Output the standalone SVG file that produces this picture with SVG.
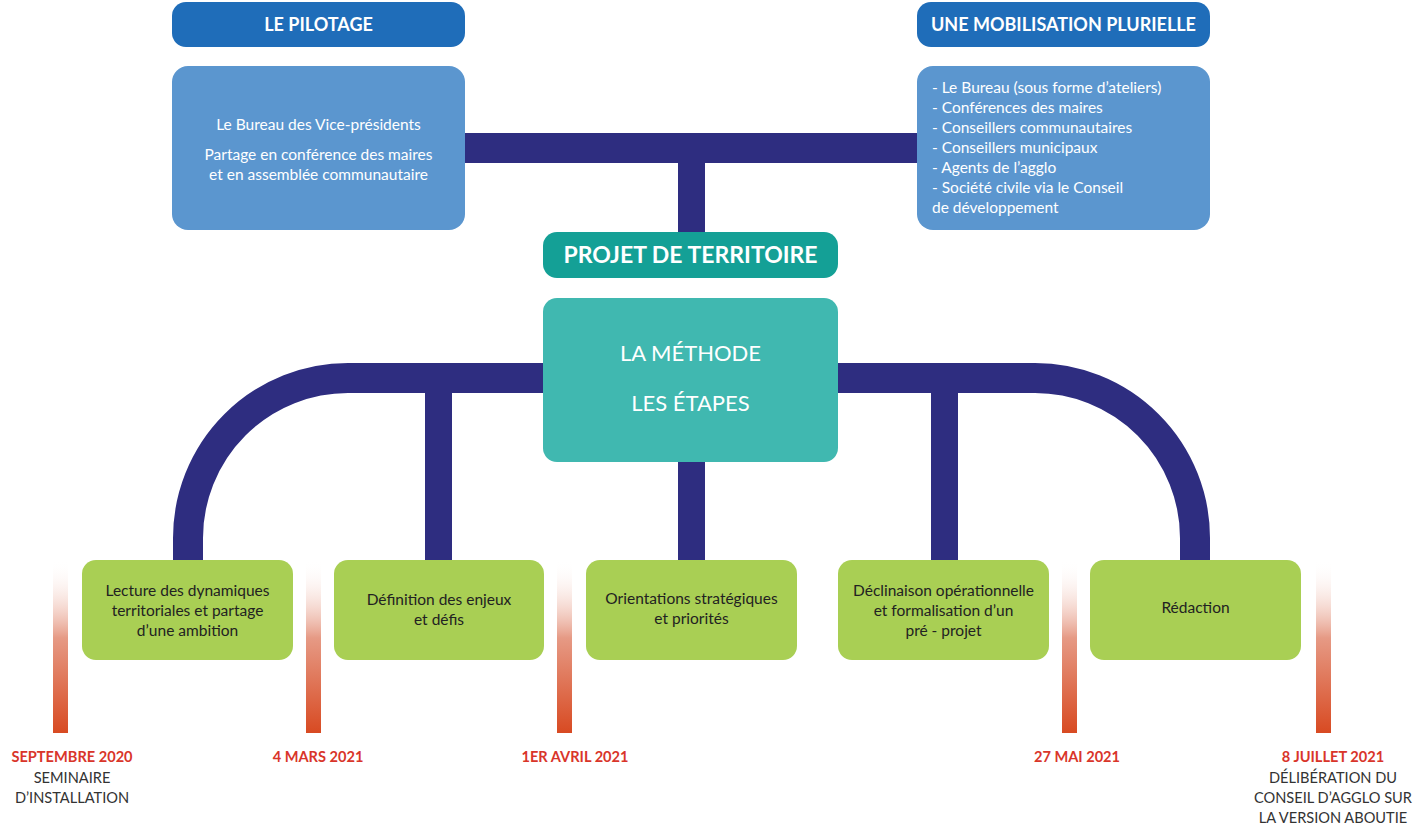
<svg xmlns="http://www.w3.org/2000/svg" width="1428" height="829" viewBox="0 0 1428 829">
<defs>
<linearGradient id="tl" x1="0" y1="0" x2="0" y2="1">
<stop offset="0" stop-color="#ffffff" stop-opacity="0"/>
<stop offset="0.45" stop-color="#e69a85"/>
<stop offset="1" stop-color="#d84a22"/>
</linearGradient>
<style>
text{font-family:Lato,"Open Sans","Liberation Sans",sans-serif;}
.hdr{fill:#1f6db9;}
.body{fill:#5b96cf;}
.teal1{fill:#14a096;}
.teal2{fill:#40b8b0;}
.green{fill:#a9cf54;}
.w{fill:#ffffff;}
.wt{fill:#ffffff;font-size:15.5px;}
.ht{fill:#ffffff;font-size:18px;font-weight:bold;text-anchor:middle;}
.gt{fill:#222222;font-size:15.5px;text-anchor:middle;}
.date{fill:#d9352a;font-size:14.6px;font-weight:bold;text-anchor:middle;}
.sub{fill:#333333;font-size:14.6px;text-anchor:middle;}
.conn{fill:none;stroke:#2e2d80;}
.bar{fill:url(#tl);}
</style>
</defs>
<rect width="1428" height="829" fill="#ffffff"/>
<g id="connectors">
<path class="conn" stroke-width="30" d="M465 148 H917"/>
<path class="conn" stroke-width="27" d="M691.5 148 V234"/>
<path class="conn" stroke-width="30" d="M188 562 V538 A160 160 0 0 1 348 378 H1035 A160 160 0 0 1 1195 538 V562"/>
<path class="conn" stroke-width="27" d="M438.5 378 V562"/>
<path class="conn" stroke-width="27" d="M944.5 378 V562"/>
<path class="conn" stroke-width="27" d="M691.5 460 V562"/>
</g>
<g id="pilotage-header">
<rect class="hdr" x="172" y="2" width="293" height="45" rx="14"/>
<text class="ht" x="318.5" y="31">LE PILOTAGE</text>
</g>
<g id="pilotage-body">
<rect class="body" x="172" y="66" width="293" height="164" rx="16"/>
<text class="wt" x="318.5" y="130" text-anchor="middle">Le Bureau des Vice-présidents</text>
<text class="wt" x="318.5" y="160" text-anchor="middle">Partage en conférence des maires</text>
<text class="wt" x="318.5" y="180" text-anchor="middle">et en assemblée communautaire</text>
</g>
<g id="mobilisation-header">
<rect class="hdr" x="917" y="2" width="293" height="45" rx="14"/>
<text class="ht" x="1063.5" y="31">UNE MOBILISATION PLURIELLE</text>
</g>
<g id="mobilisation-body">
<rect class="body" x="917" y="66" width="293" height="164" rx="16"/>
<text class="wt" x="932" y="93">- Le Bureau (sous forme d’ateliers)</text>
<text class="wt" x="932" y="113">- Conférences des maires</text>
<text class="wt" x="932" y="133">- Conseillers communautaires</text>
<text class="wt" x="932" y="153">- Conseillers municipaux</text>
<text class="wt" x="932" y="173">- Agents de l’agglo</text>
<text class="wt" x="932" y="193">- Société civile  via le Conseil</text>
<text class="wt" x="932" y="213">de développement</text>
</g>
<g id="projet">
<rect class="teal1" x="543" y="232" width="295" height="46" rx="14"/>
<text x="690.5" y="263" text-anchor="middle" class="w" style="font-size:23px;font-weight:bold;">PROJET DE TERRITOIRE</text>
</g>
<g id="methode">
<rect class="teal2" x="543" y="298" width="295" height="164" rx="14"/>
<text x="690.5" y="361" text-anchor="middle" class="w" style="font-size:22px;">LA MÉTHODE</text>
<text x="690.5" y="411" text-anchor="middle" class="w" style="font-size:22px;">LES ÉTAPES</text>
</g>
<g id="etape1">
<rect class="green" x="82" y="560" width="211" height="100" rx="14"/>
<text class="gt" x="187.5" y="596">Lecture des dynamiques</text>
<text class="gt" x="187.5" y="616">territoriales et partage</text>
<text class="gt" x="187.5" y="636">d’une ambition</text>
</g>
<g id="etape2">
<rect class="green" x="334" y="560" width="210" height="100" rx="14"/>
<text class="gt" x="439" y="605">Définition des enjeux</text>
<text class="gt" x="439" y="625">et défis</text>
</g>
<g id="etape3">
<rect class="green" x="586" y="560" width="211" height="100" rx="14"/>
<text class="gt" x="691.5" y="604">Orientations stratégiques</text>
<text class="gt" x="691.5" y="624">et priorités</text>
</g>
<g id="etape4">
<rect class="green" x="838" y="560" width="211" height="100" rx="14"/>
<text class="gt" x="943.5" y="596">Déclinaison opérationnelle</text>
<text class="gt" x="943.5" y="616">et formalisation d’un</text>
<text class="gt" x="943.5" y="636">pré - projet</text>
</g>
<g id="etape5">
<rect class="green" x="1090" y="560" width="211" height="100" rx="14"/>
<text class="gt" x="1195.5" y="613">Rédaction</text>
</g>
<g id="jalon1">
<rect class="bar" x="53" y="560" width="15" height="173"/>
<text class="date" x="72" y="762">SEPTEMBRE 2020</text>
<text class="sub" x="72" y="783">SEMINAIRE</text>
<text class="sub" x="72" y="803">D’INSTALLATION</text>
</g>
<g id="jalon2">
<rect class="bar" x="306" y="560" width="15" height="173"/>
<text class="date" x="318" y="762">4 MARS 2021</text>
</g>
<g id="jalon3">
<rect class="bar" x="557" y="560" width="15" height="173"/>
<text class="date" x="575" y="762">1ER AVRIL 2021</text>
</g>
<g id="jalon4">
<rect class="bar" x="1062" y="560" width="15" height="173"/>
<text class="date" x="1077" y="762">27 MAI 2021</text>
</g>
<g id="jalon5">
<rect class="bar" x="1316" y="560" width="15" height="173"/>
<text class="date" x="1333" y="762">8 JUILLET 2021</text>
<text class="sub" x="1333" y="783">DÉLIBÉRATION DU</text>
<text class="sub" x="1333" y="803">CONSEIL D’AGGLO SUR</text>
<text class="sub" x="1333" y="823">LA VERSION ABOUTIE</text>
</g>
</svg>
